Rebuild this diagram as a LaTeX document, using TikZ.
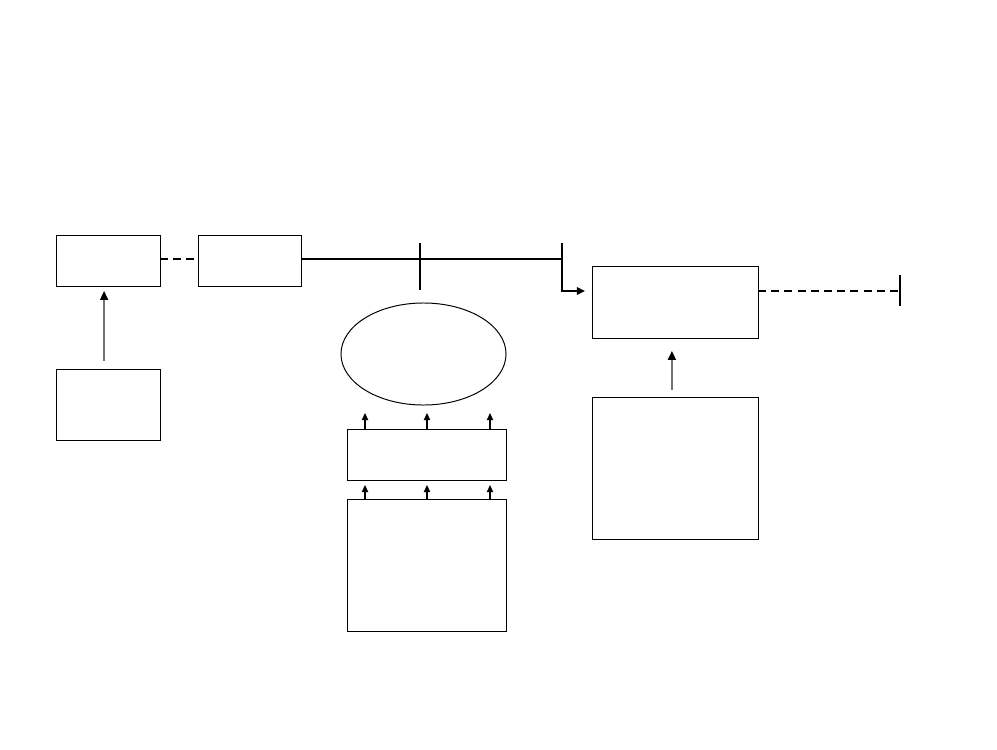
\documentclass[tikz,border=0pt]{standalone}
\usepackage{tikz}
\usetikzlibrary{arrows.meta, positioning, shapes.geometric}

\begin{document}
\begin{tikzpicture}[x=0.025cm, y=-0.025cm, >=Stealth,
    blk/.style={draw, line width=0.7pt, inner sep=0pt, outer sep=0pt},
    bus/.style={line width=1.5pt},
    dashbus/.style={line width=1.5pt, dash pattern=on 0.2cm off 0.13cm},
    feed/.style={line width=1pt, draw=black!55, -{Triangle[length=2.2mm, width=2mm, black]}},
    tap/.style={line width=0.8pt, -{Triangle[length=1.8mm, width=1.6mm]}}]
    \useasboundingbox (0,0) rectangle (997,749);

    % Khoi ben trai
    \node[blk, minimum width=2.575cm, minimum height=1.275cm] (src) at (108.5,260.5) {};
    \node[blk, minimum width=2.55cm, minimum height=1.275cm] (link) at (250,260.5) {};
    \node[blk, minimum width=2.575cm, minimum height=1.775cm] (ctrl) at (108.5,404.5) {};

    % Khoi o giua
    \node[blk, ellipse, minimum width=4.125cm, minimum height=2.55cm] (pool) at (423.5,354) {};
    \node[blk, minimum width=3.95cm, minimum height=1.275cm] (mid) at (427,454.5) {};
    \node[blk, minimum width=3.95cm, minimum height=3.275cm] (base) at (427,565.5) {};

    % Khoi ben phai
    \node[blk, minimum width=4.125cm, minimum height=1.8cm] (dst) at (675.5,302) {};
    \node[blk, minimum width=4.125cm, minimum height=3.525cm] (aux) at (675.5,468.5) {};

    % Diem phu
    \coordinate (tapT) at (420,243);
    \coordinate (tapB) at (420,290);
    \coordinate (busT) at (562,243);
    \coordinate (endT) at (900,275);
    \coordinate (endB) at (900,306);
    \coordinate (endM) at (900,291);

    % Duong noi
    \draw[dashbus] ([yshift=0.04cm]src.east) -- ([yshift=0.04cm]link.west);
    \draw[bus] ([yshift=0.04cm]link.east) -- ([yshift=0.04cm]link.east -| busT);
    \draw[bus] (tapT) -- (tapB);
    \draw[bus, ->, >={Triangle[length=2mm, width=1.8mm]}, line width=1.3pt]
        (busT) |- ([xshift=-0.2cm, yshift=0.275cm]dst.west);
    \draw[dashbus] (dst.east |- endM) -- (endM);
    \draw[bus] (endT) -- (endB);

    \draw[feed] ([xshift=-0.11cm, yshift=0.2cm]ctrl.north) -- ([xshift=-0.11cm, yshift=-0.125cm]src.south);
    \draw[feed] ([xshift=-0.09cm, yshift=0.2cm]aux.north) -- ([xshift=-0.09cm, yshift=-0.325cm]dst.south);

    % Mui ten nho
    \foreach \dx in {-62,0,63} {
        \draw[tap] ([xshift=\dx*0.025cm]mid.north) -- ++(0,-16);
        \draw[tap] ([xshift=\dx*0.025cm]base.north) -- ++(0,-15);
    }
\end{tikzpicture}
\end{document}
